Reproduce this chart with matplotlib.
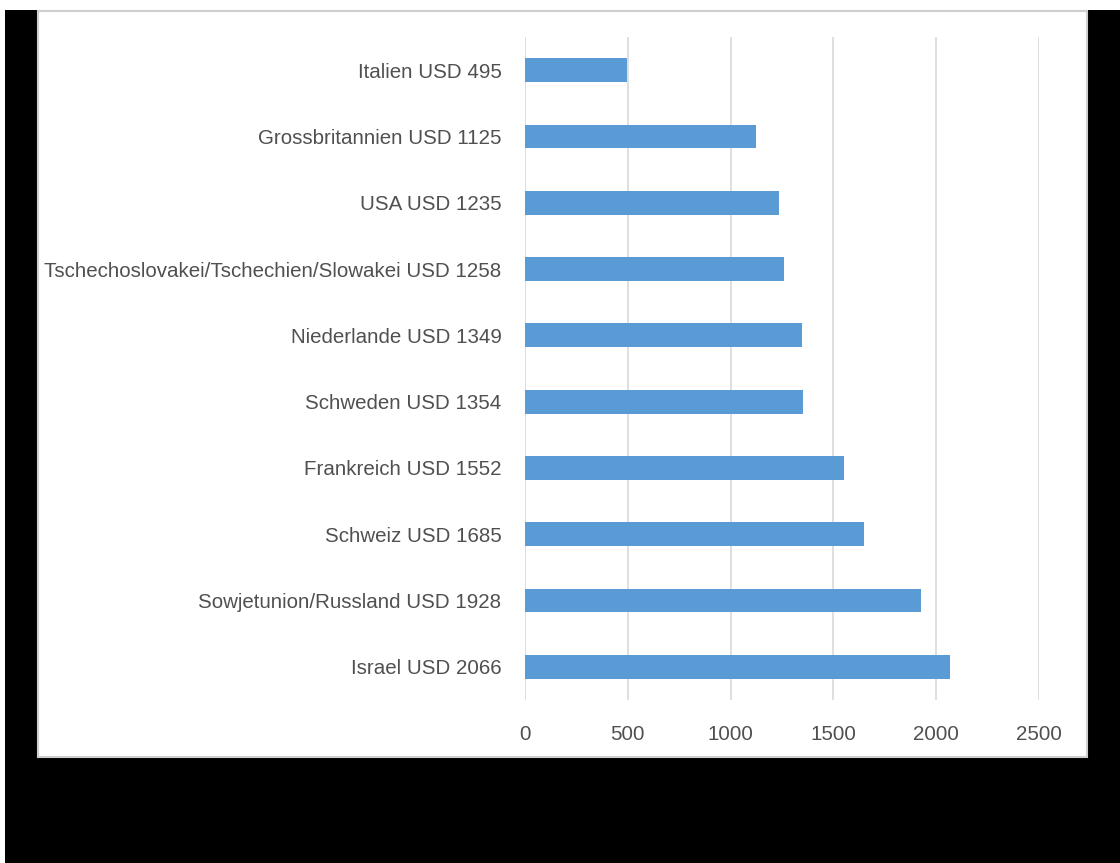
import matplotlib.pyplot as plt
from matplotlib.patches import Rectangle

# categories (bottom to top) and bar values
labels = ["Israel USD 2066", "Sowjetunion/Russland USD 1928", "Schweiz USD 1685",
          "Frankreich USD 1552", "Schweden USD 1354", "Niederlande USD 1349",
          "Tschechoslovakei/Tschechien/Slowakei USD 1258", "USA USD 1235",
          "Grossbritannien USD 1125", "Italien USD 495"]
values = [2066, 1928, 1650, 1552, 1354, 1349, 1258, 1235, 1125, 495]
xticks = [0, 500, 1000, 1500, 2000, 2500]

W, H = 1120, 863
fig = plt.figure(figsize=(W / 100, H / 100), dpi=100, facecolor="black")

# screenshot frame: white strips, white panel with soft border
fig.patches.append(Rectangle((0, 1 - 10 / H), 1, 10 / H, transform=fig.transFigure,
                             facecolor="white", edgecolor="none", zorder=-5))
fig.patches.append(Rectangle((0, 0), 5 / W, 1, transform=fig.transFigure,
                             facecolor="white", edgecolor="none", zorder=-5))
fig.patches.append(Rectangle((38 / W, 1 - 757 / H), (1087 - 38) / W, (757 - 11) / H,
                             transform=fig.transFigure, facecolor="white",
                             edgecolor="#cfcfcf", linewidth=1.5, zorder=-5))

ax = fig.add_axes([525 / W, 1 - 700 / H, (1039 - 525) / W, (700 - 37) / H])
ax.set_zorder(5)
ax.set_facecolor("none")
ax.barh(range(len(values)), values, height=0.36, color="#5B9BD5", zorder=3)

ax.set_xlim(0, 2500)
ax.set_ylim(-0.5, len(values) - 0.5)
ax.set_xticks(xticks)
ax.set_xticklabels([str(t) for t in xticks])
ax.set_yticks(range(len(labels)))
ax.set_yticklabels(labels)
ax.grid(axis="x", color="#d9d9d9", linewidth=1.2, zorder=0)
for s in ax.spines.values():
    s.set_visible(False)
ax.tick_params(axis="both", length=0, colors="#555555", labelsize=14.8)
ax.tick_params(axis="y", pad=17)
ax.tick_params(axis="x", pad=18)
for t in ax.get_xticklabels() + ax.get_yticklabels():
    t.set_fontfamily("Liberation Sans")
    t.set_color("#505050")

fig.savefig("out.png", dpi=100, facecolor="black")
